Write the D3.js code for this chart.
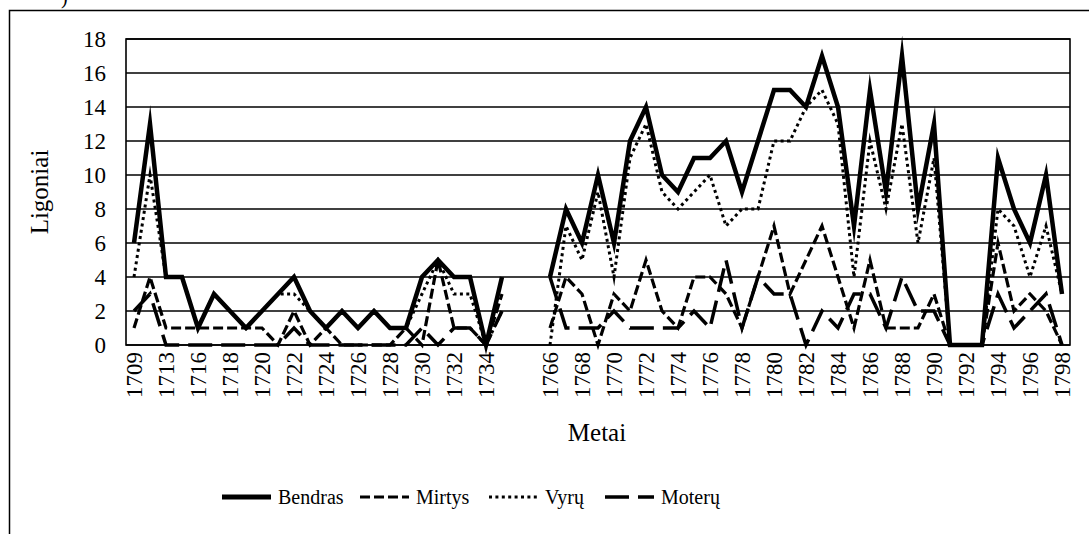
<!DOCTYPE html>
<html lang="lt">
<head>
<meta charset="utf-8">
<title>Ligoniai</title>
<style>
  body { margin: 0; background: #fff; }
  svg text { font-family: 'Liberation Serif', 'Times New Roman', serif; fill: #000; }
</style>
</head>
<body>
<svg width="1089" height="534"></svg>
<script src="https://d3js.org/d3.v7.min.js"></script>
<script>
// categories (blank ones are the break between 1735 and 1766)
var years = ['1709', '1711', '1713', '1715', '1716', '1717', '1718', '1719', '1720', '1721',
  '1722', '1723', '1724', '1725', '1726', '1727', '1728', '1729', '1730', '1731',
  '1732', '1733', '1734', '1735', '', '',
  '1766', '1767', '1768', '1769', '1770', '1771', '1772', '1773', '1774', '1775',
  '1776', '1777', '1778', '1779', '1780', '1781', '1782', '1783', '1784', '1785',
  '1786', '1787', '1788', '1789', '1790', '1791', '1792', '1793', '1794', '1795',
  '1796', '1797', '1798'];

var bendras = [6, 13, 4, 4, 1, 3, 2, 1, 2, 3, 4, 2, 1, 2, 1, 2, 1, 1, 4, 5, 4, 4, 0, 4, null, null,
  4, 8, 6, 10, 6, 12, 14, 10, 9, 11, 11, 12, 9, 12, 15, 15, 14, 17, 14, 7, 15, 9, 17, 8, 13, 0, 0, 0, 11, 8, 6, 10, 3];
var mirtys = [1, 4, 1, 1, 1, 1, 1, 1, 1, 0, 2, 0, 1, 0, 0, 0, 0, 1, 0, 5, 1, 1, 0, 3, null, null,
  1, 4, 3, 0, 3, 2, 5, 2, 1, 4, 4, 3, 1, 4, 7, 3, 5, 7, 4, 1, 5, 1, 1, 1, 3, 0, 0, 0, 6, 2, 3, 2, 0];
var vyru = [4, 10, 4, 4, 1, 3, 2, 1, 2, 3, 3, 2, 1, 2, 1, 2, 1, 1, 3, 5, 3, 3, 0, 2, null, null,
  0, 7, 5, 9, 4, 11, 13, 9, 8, 9, 10, 7, 8, 8, 12, 12, 14, 15, 13, 4, 12, 8, 13, 6, 11, 0, 0, 0, 8, 7, 4, 7, 3];
var moteru = [2, 3, 0, 0, 0, 0, 0, 0, 0, 0, 1, 0, 0, 0, 0, 0, 0, 0, 1, 0, 1, 1, 0, 2, null, null,
  4, 1, 1, 1, 2, 1, 1, 1, 1, 2, 1, 5, 1, 4, 3, 3, 0, 2, 1, 3, 3, 1, 4, 2, 2, 0, 0, 0, 3, 1, 2, 3, 0];

var yTicks = [0, 2, 4, 6, 8, 10, 12, 14, 16, 18];

var series = [
  { name: 'Bendras', values: bendras, width: 4.5, dash: null },
  { name: 'Mirtys', values: mirtys, width: 3.2, dash: '10 4' },
  { name: 'Vyrų', values: vyru, width: 3, dash: '3 3.4' },
  { name: 'Moterų', values: moteru, width: 3.5, dash: '24 9' }
];

var svg = d3.select('svg');

// outer frame of the figure
svg.append('rect')
  .attr('x', 9.5).attr('y', 10.5)
  .attr('width', 1100).attr('height', 600)
  .attr('fill', 'none').attr('stroke', '#000').attr('stroke-width', 1.5);

svg.append('text')
  .attr('x', 61).attr('y', 4)
  .attr('font-size', 20)
  .text(')');

var plotLeft = 126, plotRight = 1070, plotTop = 39, plotBottom = 345;

var x = d3.scaleBand()
  .domain(d3.range(years.length))
  .range([plotLeft, plotRight]);

var y = d3.scaleLinear()
  .domain([0, 18])
  .range([plotBottom, plotTop]);

// gridlines
svg.append('g')
  .selectAll('line')
  .data(yTicks)
  .enter()
  .append('line')
  .attr('x1', plotLeft).attr('x2', plotRight)
  .attr('y1', function(d) { return y(d); })
  .attr('y2', function(d) { return y(d); })
  .attr('stroke', '#000')
  .attr('stroke-width', 1.6);

svg.append('rect')
  .attr('x', plotLeft).attr('y', plotTop)
  .attr('width', plotRight - plotLeft).attr('height', plotBottom - plotTop)
  .attr('fill', 'none').attr('stroke', '#000').attr('stroke-width', 1.6);

// y axis labels
var yAxis = svg.append('g')
  .attr('transform', 'translate(' + plotLeft + ',0)')
  .call(d3.axisLeft(y).tickValues(yTicks).tickSize(0).tickPadding(20));
yAxis.select('.domain').remove();
yAxis.selectAll('text')
  .attr('font-family', 'Liberation Serif')
  .attr('font-size', 23)
  .attr('fill', '#000');

// x axis labels, every second category, rotated
var xAxis = svg.append('g')
  .attr('transform', 'translate(0,' + plotBottom + ')')
  .call(d3.axisBottom(x)
    .tickValues(d3.range(0, years.length, 2))
    .tickFormat(function(i) { return years[i]; })
    .tickSize(0));
xAxis.select('.domain').remove();
xAxis.selectAll('text')
  .attr('font-family', 'Liberation Serif')
  .attr('font-size', 23)
  .attr('fill', '#000')
  .attr('text-anchor', 'end')
  .attr('dy', '0.35em')
  .attr('transform', 'translate(0,7) rotate(-90)')
  .attr('x', 0).attr('y', 0);

// series lines
var line = d3.line()
  .defined(function(d) { return d != null; })
  .x(function(d, i) { return x(i) + x.bandwidth() / 2; })
  .y(function(d) { return y(d); });

var order = [series[1], series[3], series[2], series[0]];
svg.append('g')
  .selectAll('path')
  .data(order)
  .enter()
  .append('path')
  .attr('d', function(s) { return line(s.values); })
  .attr('fill', 'none')
  .attr('stroke', '#000')
  .attr('stroke-width', function(s) { return s.width; })
  .attr('stroke-dasharray', function(s) { return s.dash; })
  .attr('stroke-linejoin', 'miter')
  .attr('stroke-miterlimit', 20);

// axis titles
svg.append('text')
  .attr('transform', 'translate(39,' + ((plotTop + plotBottom) / 2) + ') rotate(-90)')
  .attr('text-anchor', 'middle')
  .attr('dy', '0.35em')
  .attr('font-size', 25)
  .text('Ligoniai');

svg.append('text')
  .attr('x', (plotLeft + plotRight) / 2 - 1)
  .attr('y', 441)
  .attr('text-anchor', 'middle')
  .attr('font-size', 25)
  .text('Metai');

// legend
var legendX = [222, 360, 489, 605], ly = 497;
series.forEach(function(s, i) {
  var lx = legendX[i];
  svg.append('line')
    .attr('x1', lx).attr('x2', lx + 49)
    .attr('y1', ly).attr('y2', ly)
    .attr('stroke', '#000')
    .attr('stroke-width', s.name === 'Bendras' ? 5 : s.width)
    .attr('stroke-dasharray', s.dash);
  svg.append('text')
    .attr('x', lx + 56)
    .attr('y', ly + 7)
    .attr('font-size', 20)
    .text(s.name);
});
</script>
</body>
</html>
